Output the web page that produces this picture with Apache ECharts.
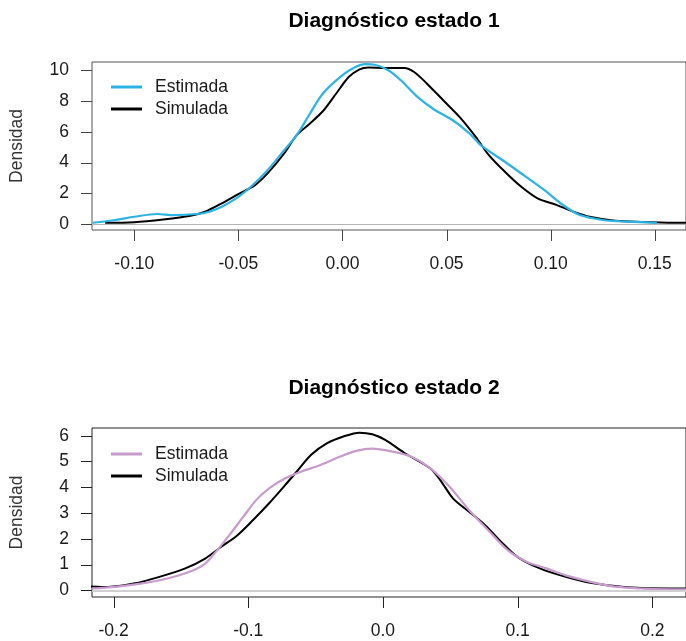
<!DOCTYPE html>
<html>
<head>
    <meta charset="UTF-8">
    <title>Diagnóstico estados</title>
    <script src="https://cdn.jsdelivr.net/npm/echarts@6/dist/echarts.min.js"></script>
    <style>
        html, body { margin: 0; padding: 0; background: #fff; }
        #main { width: 686px; height: 641px; }
    </style>
</head>
<body>
<div id="main"></div>
<script type="text/javascript">
    // estado 1: densidad estimada y simulada  [x, densidad]
    var estimada1 = [
        [-0.120, 0.08], [-0.109, 0.26], [-0.100, 0.47], [-0.089, 0.65], [-0.081, 0.58],
        [-0.070, 0.65], [-0.064, 0.80], [-0.058, 1.12], [-0.050, 1.77], [-0.044, 2.42],
        [-0.036, 3.50], [-0.028, 4.80], [-0.022, 5.78], [-0.0156, 7.19], [-0.0094, 8.49],
        [0.000, 9.68], [0.006, 10.20], [0.011, 10.40], [0.0156, 10.36], [0.022, 10.00],
        [0.028, 9.35], [0.036, 8.27], [0.044, 7.45], [0.053, 6.75], [0.061, 5.89],
        [0.067, 5.06], [0.078, 4.05], [0.087, 3.18], [0.097, 2.20], [0.106, 1.23],
        [0.114, 0.58], [0.125, 0.26], [0.137, 0.15], [0.151, 0.08]
    ];
    var simulada1 = [
        [-0.114, 0.08], [-0.100, 0.12], [-0.086, 0.30], [-0.073, 0.54], [-0.066, 0.80],
        [-0.058, 1.34], [-0.050, 1.95], [-0.042, 2.53], [-0.036, 3.29], [-0.028, 4.59],
        [-0.022, 5.78], [-0.0156, 6.54], [-0.009, 7.40], [-0.003, 8.49], [0.003, 9.56],
        [0.008, 10.05], [0.0125, 10.18], [0.020, 10.15], [0.0297, 10.15], [0.0344, 9.89],
        [0.0406, 9.13], [0.0484, 8.05], [0.0562, 6.97], [0.064, 5.67], [0.0703, 4.48],
        [0.078, 3.40], [0.0859, 2.42], [0.0937, 1.67], [0.103, 1.23], [0.111, 0.80],
        [0.1187, 0.47], [0.131, 0.21], [0.1437, 0.13], [0.159, 0.08], [0.170, 0.08]
    ];
    // estado 2
    var estimada2 = [
        [-0.216, 0.07], [-0.199, 0.13], [-0.180, 0.26], [-0.161, 0.45], [-0.144, 0.71],
        [-0.132, 1.04], [-0.123, 1.56], [-0.113, 2.21], [-0.1036, 2.86], [-0.094, 3.51],
        [-0.0845, 3.96], [-0.0725, 4.35], [-0.0605, 4.61], [-0.046, 4.87], [-0.0318, 5.19],
        [-0.0199, 5.41], [-0.0079, 5.50], [0.0065, 5.39], [0.0208, 5.19], [0.035, 4.74],
        [0.0495, 4.02], [0.0639, 3.12], [0.078, 2.34], [0.0926, 1.56], [0.107, 1.10],
        [0.1213, 0.85], [0.1357, 0.58], [0.155, 0.32], [0.174, 0.13], [0.193, 0.07],
        [0.212, 0.04], [0.230, 0.03]
    ];
    var simulada2 = [
        [-0.220, 0.16], [-0.204, 0.13], [-0.185, 0.26], [-0.166, 0.52], [-0.1467, 0.85],
        [-0.132, 1.23], [-0.120, 1.69], [-0.108, 2.14], [-0.0964, 2.73], [-0.0845, 3.38],
        [-0.0725, 4.09], [-0.063, 4.67], [-0.0533, 5.26], [-0.0414, 5.71], [-0.0294, 5.97],
        [-0.0174, 6.12], [-0.0079, 6.06], [0.0017, 5.84], [0.016, 5.33], [0.035, 4.74],
        [0.0424, 4.29], [0.052, 3.57], [0.0639, 3.05], [0.0759, 2.53], [0.0878, 1.88],
        [0.0998, 1.30], [0.1165, 0.85], [0.1357, 0.52], [0.155, 0.28], [0.179, 0.13],
        [0.212, 0.07], [0.230, 0.07]
    ];

    // marcas de los ejes
    var ticksX1 = [-0.10, -0.05, 0.00, 0.05, 0.10, 0.15];
    var ticksY1 = [0, 2, 4, 6, 8, 10];
    var ticksX2 = [-0.2, -0.1, 0.0, 0.1, 0.2];
    var ticksY2 = [0, 1, 2, 3, 4, 5, 6];

    // rangos de los ejes
    var rangoX1 = [-0.1203, 0.165];
    var rangoY1 = [-0.39, 10.54];
    var rangoX2 = [-0.216, 0.225];
    var rangoY2 = [-0.26, 6.3];

    var colorEst1 = '#2bb3e2';
    var colorEst2 = '#c79bcc';
    var colorSim = '#000000';
    var fuente = '"Liberation Sans", Arial, sans-serif';

    var myChart = echarts.init(document.getElementById('main'));

    function ejeX(idx, rango, ticks, decimales) {
        return {
            type: 'value', gridIndex: idx, min: rango[0], max: rango[1], position: 'bottom',
            axisLine: { show: false, onZero: false },
            splitLine: { show: false },
            axisTick: { show: false },
            axisLabel: {
                customValues: ticks, margin: 25, fontSize: 17.5, fontFamily: fuente, color: '#1a1a1a',
                formatter: function (v) { return v.toFixed(decimales); }
            }
        };
    }

    function ejeY(idx, rango, ticks) {
        return {
            type: 'value', gridIndex: idx, min: rango[0], max: rango[1], position: 'left',
            name: 'Densidad', nameLocation: 'middle', nameGap: 66, nameRotate: 90,
            nameTextStyle: { fontSize: 17.5, fontFamily: fuente, color: '#333' },
            axisLine: { show: false, onZero: false },
            splitLine: { show: false },
            axisTick: { show: false },
            axisLabel: { customValues: ticks, margin: 23, fontSize: 17.5, fontFamily: fuente, color: '#1a1a1a' }
        };
    }

    function nombreLeyenda(n) { return n.split(' (')[0]; }

    function leyenda(top, nombres) {
        return {
            orient: 'vertical', left: 106, top: top, icon: 'rect', itemWidth: 31, itemHeight: 3, itemGap: 0,
            data: nombres, formatter: nombreLeyenda, selectedMode: false,
            textStyle: { fontSize: 17.5, fontFamily: fuente, color: '#1a1a1a', lineHeight: 22, padding: [0, 0, 0, 8] }
        };
    }

    myChart.setOption({
        animation: false,
        backgroundColor: '#fff',
        title: [{
            text: 'Diagnóstico estado 1', left: 389, top: 6, textAlign: 'center',
            textStyle: { fontSize: 21, fontWeight: 'bold', fontFamily: fuente, color: '#000' }
        }, {
            text: 'Diagnóstico estado 2', left: 389, top: 373, textAlign: 'center',
            textStyle: { fontSize: 21, fontWeight: 'bold', fontFamily: fuente, color: '#000' }
        }],
        legend: [
            leyenda(71, ['Estimada (1)', 'Simulada (1)']),
            leyenda(438, ['Estimada (2)', 'Simulada (2)'])
        ],
        grid: [
            { left: 90, top: 62, width: 609, height: 168, show: true, borderColor: '#555', borderWidth: 1 },
            { left: 90, top: 428, width: 614, height: 169, show: true, borderColor: '#222', borderWidth: 1 }
        ],
        xAxis: [
            ejeX(0, rangoX1, ticksX1, 2),
            ejeX(1, rangoX2, ticksX2, 1)
        ],
        yAxis: [
            ejeY(0, rangoY1, ticksY1),
            ejeY(1, rangoY2, ticksY2)
        ],
        series: [{
            name: 'Simulada (1)', type: 'line', xAxisIndex: 0, yAxisIndex: 0,
            data: simulada1, symbol: 'none', smooth: 0.3,
            lineStyle: { color: colorSim, width: 2 }, itemStyle: { color: colorSim },
            markLine: {
                silent: true, symbol: 'none', label: { show: false },
                lineStyle: { color: '#b5b5b5', width: 1, type: 'solid' },
                data: [{ yAxis: 0 }]
            }
        }, {
            name: 'Estimada (1)', type: 'line', xAxisIndex: 0, yAxisIndex: 0,
            data: estimada1, symbol: 'none', smooth: 0.3,
            lineStyle: { color: colorEst1, width: 2.2 }, itemStyle: { color: colorEst1 }
        }, {
            name: 'Simulada (2)', type: 'line', xAxisIndex: 1, yAxisIndex: 1,
            data: simulada2, symbol: 'none', smooth: 0.3,
            lineStyle: { color: colorSim, width: 2 }, itemStyle: { color: colorSim },
            markLine: {
                silent: true, symbol: 'none', label: { show: false },
                lineStyle: { color: '#d0d0d0', width: 2, type: 'solid' },
                data: [{ yAxis: 0 }]
            }
        }, {
            name: 'Estimada (2)', type: 'line', xAxisIndex: 1, yAxisIndex: 1,
            data: estimada2, symbol: 'none', smooth: 0.3,
            lineStyle: { color: colorEst2, width: 2.2 }, itemStyle: { color: colorEst2 }
        }]
    });

    // marcas cortas fuera del recuadro (como en R), ubicadas con la escala de cada eje
    function marcas(idx, ticksX, ticksY, rangoX, rangoY, color) {
        var lineas = [];
        var yBase = myChart.convertToPixel({ yAxisIndex: idx }, rangoY[0]);
        var xBase = myChart.convertToPixel({ xAxisIndex: idx }, rangoX[0]);
        ticksX.forEach(function (v) {
            var x = Math.round(myChart.convertToPixel({ xAxisIndex: idx }, v)) + 0.5;
            lineas.push({ type: 'line', z: 100, silent: true,
                shape: { x1: x, y1: yBase, x2: x, y2: yBase + 11 },
                style: { stroke: color, lineWidth: 1 } });
        });
        ticksY.forEach(function (v) {
            var y = Math.round(myChart.convertToPixel({ yAxisIndex: idx }, v)) + 0.5;
            lineas.push({ type: 'line', z: 100, silent: true,
                shape: { x1: xBase - 11, y1: y, x2: xBase, y2: y },
                style: { stroke: color, lineWidth: 1 } });
        });
        return lineas;
    }

    myChart.setOption({
        graphic: marcas(0, ticksX1, ticksY1, rangoX1, rangoY1, '#444')
            .concat(marcas(1, ticksX2, ticksY2, rangoX2, rangoY2, '#222'))
    });
</script>
</body>
</html>
